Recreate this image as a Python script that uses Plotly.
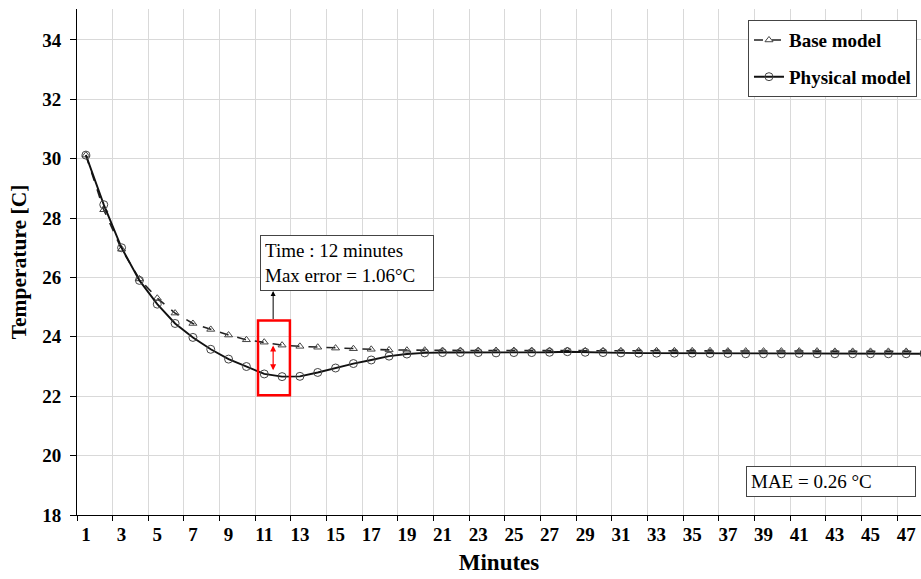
import plotly.graph_objects as go

minutes = list(range(1, 49))
base_model = [30.12, 28.28, 26.95, 25.95, 25.30, 24.80, 24.45, 24.25, 24.06, 23.90,
              23.82, 23.72, 23.68, 23.65, 23.62, 23.60, 23.58, 23.56, 23.55, 23.55,
              23.54, 23.54, 23.54, 23.54, 23.54, 23.54, 23.54, 23.54, 23.53, 23.53,
              23.53, 23.53, 23.53, 23.53, 23.53, 23.53, 23.52, 23.52, 23.52, 23.52,
              23.52, 23.52, 23.51, 23.51, 23.51, 23.51, 23.51, 23.51]
physical_model = [30.12, 28.45, 27.00, 25.90, 25.10, 24.45, 23.98, 23.58, 23.25, 23.00,
                  22.75, 22.66, 22.67, 22.80, 22.95, 23.10, 23.22, 23.35, 23.42, 23.46,
                  23.47, 23.47, 23.47, 23.46, 23.47, 23.47, 23.48, 23.50, 23.48, 23.47,
                  23.46, 23.45, 23.45, 23.45, 23.45, 23.44, 23.44, 23.43, 23.43, 23.43,
                  23.44, 23.43, 23.43, 23.43, 23.43, 23.43, 23.43, 23.43]
x_labels = list(range(1, 48, 2))
y_ticks = list(range(18, 35, 2))
grid_x = [k + 0.5 for k in range(0, 48, 2)]

FONT = "Liberation Serif"

fig = go.Figure()
fig.add_trace(go.Scatter(
    x=minutes, y=base_model, name="Base model", mode="lines+markers",
    legendgroup="a",
    line=dict(color="#222222", width=1.6, dash="dash"),
    marker=dict(symbol="triangle-up-open", size=7, color="#444444", line=dict(width=1)),
))
fig.add_trace(go.Scatter(
    x=minutes, y=physical_model, name="Physical model", mode="lines+markers",
    legendgroup="b",
    line=dict(color="#111111", width=1.9),
    marker=dict(symbol="circle-open", size=8, color="#444444", line=dict(width=1)),
))

# red highlight rectangle
fig.add_shape(type="rect", x0=10.65, x1=12.44, y0=22.03, y1=24.55,
              line=dict(color="#ff0000", width=2.5), fillcolor="rgba(0,0,0,0)")

# red double arrow
fig.add_annotation(x=11.5, y=23.71, ax=11.5, ay=22.82, axref="x", ayref="y",
                   xref="x", yref="y", text="", showarrow=True,
                   arrowhead=2, arrowside="end+start", arrowsize=1, arrowwidth=1.2,
                   arrowcolor="#ff0000")
# black arrow to the text box
fig.add_annotation(x=11.5, y=25.54, ax=11.5, ay=24.55, axref="x", ayref="y",
                   xref="x", yref="y", text="", showarrow=True,
                   arrowhead=2, arrowsize=1, arrowwidth=1, arrowcolor="#000000")

fig.add_annotation(x=10.75, y=27.43, xref="x", yref="y", xanchor="left", yanchor="top",
                   text="Time : 12 minutes<br>Max error = 1.06°C", showarrow=False,
                   align="left", width=164,
                   font=dict(family=FONT, size=19, color="#000000"),
                   bordercolor="#444444", borderwidth=1, borderpad=4, bgcolor="white")

fig.add_annotation(x=38.0, y=19.145, xref="x", yref="y", xanchor="left", yanchor="middle",
                   text="MAE = 0.26 °C", showarrow=False, align="left", width=160,
                   font=dict(family=FONT, size=19, color="#000000"),
                   bordercolor="#444444", borderwidth=1, borderpad=4, bgcolor="white")

fig.update_layout(
    width=921, height=579,
    margin=dict(l=77, r=0, t=9, b=64),
    paper_bgcolor="white", plot_bgcolor="white",
    font=dict(family=FONT, color="#000000"),
    showlegend=True,
    legend=dict(x=0.795, y=0.978, xanchor="left", yanchor="top",
                bordercolor="#444444", borderwidth=1, bgcolor="white",
                font=dict(family=FONT, size=19, color="#000000", weight="bold"),
                itemwidth=30, traceorder="grouped", tracegroupgap=9),
    xaxis=dict(
        range=[0.5, 47.83], tickmode="array", tickvals=x_labels,
        ticktext=[str(v) for v in x_labels], ticks="", showgrid=False,
        tickfont=dict(family=FONT, size=19, color="#000000", weight="bold"),
        ticklabelstandoff=2,
        showline=True, linecolor="#000000", linewidth=1, zeroline=False,
        minor=dict(tickmode="array", tickvals=grid_x, ticks="outside", ticklen=5,
                   tickcolor="#000000", showgrid=True, gridcolor="#d9d9d9", gridwidth=1),
        title=dict(text="<b>Minutes</b>", font=dict(family=FONT, size=23, color="#000000"),
                   standoff=10),
    ),
    yaxis=dict(
        range=[18, 35.04], tickmode="array", tickvals=y_ticks,
        ticks="outside", ticklen=6, tickcolor="#000000",
        tickfont=dict(family=FONT, size=19, color="#000000", weight="bold"),
        ticklabelstandoff=5,
        showgrid=True, gridcolor="#d9d9d9", gridwidth=1,
        showline=True, linecolor="#000000", linewidth=1, zeroline=False,
        title=dict(text="<b>Temperature [C]</b>", font=dict(family=FONT, size=21.5, color="#000000"),
                   standoff=9),
    ),
)

fig.write_html("out.html")
